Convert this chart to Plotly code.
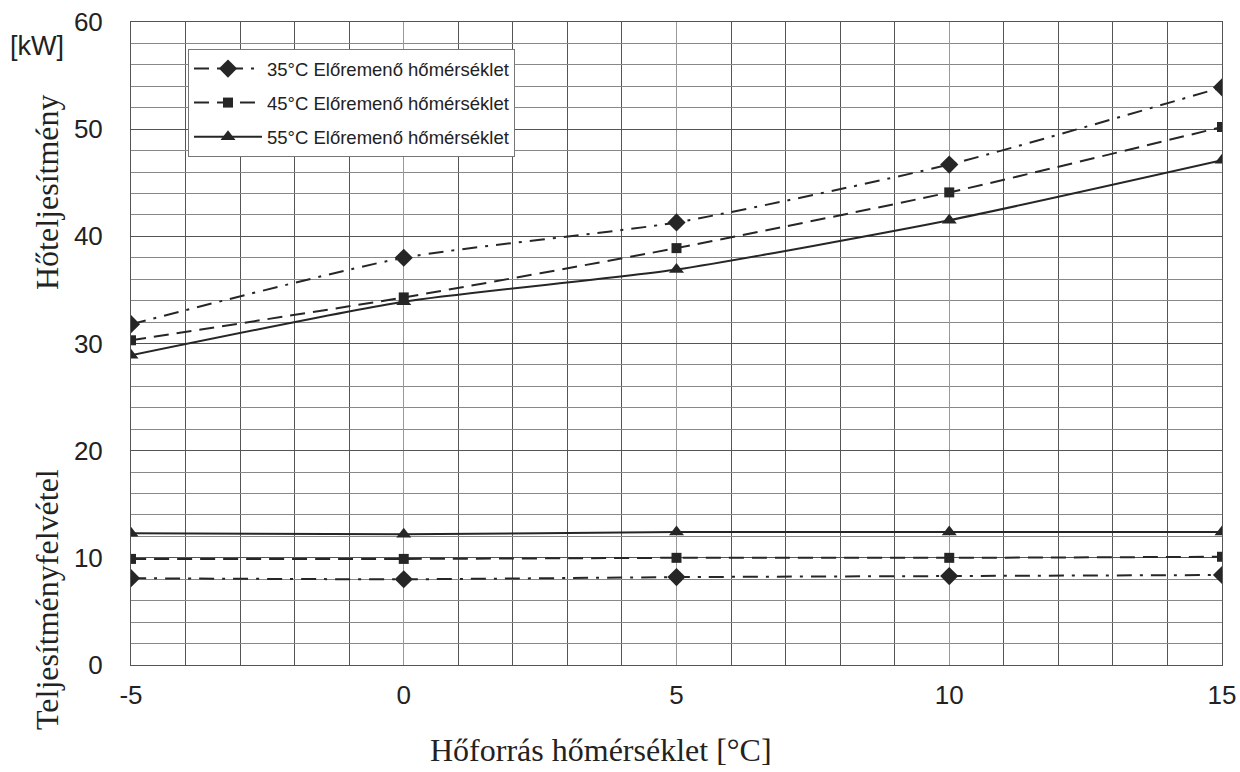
import plotly.graph_objects as go

x_temps = [-5, 0, 5, 10, 15]
series_names = ["35°C Előremenő hőmérséklet", "45°C Előremenő hőmérséklet", "55°C Előremenő hőmérséklet"]
heat_35 = [31.8, 38.0, 41.3, 46.7, 53.9]
heat_45 = [30.3, 34.3, 38.9, 44.1, 50.2]
heat_55 = [28.9, 33.9, 36.9, 41.5, 47.1]
power_35 = [8.1, 8.0, 8.2, 8.3, 8.4]
power_45 = [9.9, 9.9, 10.0, 10.0, 10.1]
power_55 = [12.3, 12.2, 12.4, 12.4, 12.4]
x_ticks = [-5, 0, 5, 10, 15]
y_ticks = [0, 10, 20, 30, 40, 50, 60]

symbols = ["diamond", "square", "triangle-up"]
dashes = ["15px,8px,3px,8px", "15px,8px", "solid"]
sizes = [14, 10, 13]
line_color = "#262626"
serif = "Liberation Serif, DejaVu Serif, serif"
sans = "Liberation Sans, Arial, sans-serif"

# plot area in pixels
PL, PR, PT, PB = 131, 1222, 22, 665


def px_x(px):
    return (px - PL) / (PR - PL)


def px_y(py):
    return (PB - py) / (PB - PT)


fig = go.Figure()
for i, (name, heat, power, sym, dash, sz) in enumerate(zip(series_names, [heat_35, heat_45, heat_55],
                                                           [power_35, power_45, power_55], symbols, dashes, sizes)):
    common = dict(mode="lines+markers", legendgroup=f"g{i}",
                  line=dict(color=line_color, width=2, dash=dash, shape="spline", smoothing=0.6),
                  marker=dict(symbol=sym, size=sz, color=line_color))
    fig.add_trace(go.Scatter(x=x_temps, y=heat, name=name, **common))
    fig.add_trace(go.Scatter(x=x_temps, y=power, name=name, showlegend=False, **common))

fig.update_layout(
    template="none",
    width=1240, height=772,
    margin=dict(l=PL, r=1240 - PR, t=PT, b=772 - PB, autoexpand=False),
    plot_bgcolor="white", paper_bgcolor="white",
    font=dict(family=sans, color="#222", size=26),
    showlegend=True,
    legend=dict(x=px_x(188), y=px_y(49), xanchor="left", yanchor="top",
                bgcolor="white", bordercolor="#777", borderwidth=1,
                font=dict(size=18.5, family=sans, color="#222"),
                itemwidth=68, tracegroupgap=7, traceorder="grouped"),
)
fig.update_xaxes(range=[-5, 15], tickvals=x_ticks, ticktext=[str(v) for v in x_ticks],
                 automargin=False,
                 showgrid=True, gridcolor="#999", gridwidth=1.2,
                 minor=dict(dtick=1, tick0=-5, showgrid=True, gridcolor="#555", gridwidth=1),
                 zeroline=False, showline=True, linecolor="#555", linewidth=1, mirror=True,
                 ticks="", ticklabelstandoff=7)
fig.update_yaxes(range=[0, 60], tickvals=y_ticks, ticktext=[str(v) for v in y_ticks],
                 automargin=False,
                 showgrid=True, gridcolor="#555", gridwidth=1,
                 minor=dict(dtick=2, tick0=0, showgrid=True, gridcolor="#888", gridwidth=1),
                 zeroline=False, showline=True, linecolor="#555", linewidth=1, mirror=True,
                 ticks="", ticklabelstandoff=22)

fig.add_annotation(text="Hőforrás hőmérséklet [°C]", x=px_x(601), y=px_y(750),
                   xref="paper", yref="paper", xanchor="center", yanchor="middle", showarrow=False,
                   font=dict(family=serif, size=32, color="#222"))
fig.add_annotation(text="Hőteljesítmény", x=px_x(47), y=px_y(192),
                   xref="paper", yref="paper", xanchor="center", yanchor="middle",
                   textangle=-90, showarrow=False,
                   font=dict(family=serif, size=32, color="#222"))
fig.add_annotation(text="Teljesítményfelvétel", x=px_x(47), y=px_y(600),
                   xref="paper", yref="paper", xanchor="center", yanchor="middle",
                   textangle=-90, showarrow=False,
                   font=dict(family=serif, size=32, color="#222"))
fig.add_annotation(text="[kW]", x=px_x(37), y=px_y(46),
                   xref="paper", yref="paper", xanchor="center", yanchor="middle", showarrow=False,
                   font=dict(family=sans, size=27, color="#222"))

fig.write_html("out.html", config={"displayModeBar": False},
               post_script="document.body.style.margin='0px';")
